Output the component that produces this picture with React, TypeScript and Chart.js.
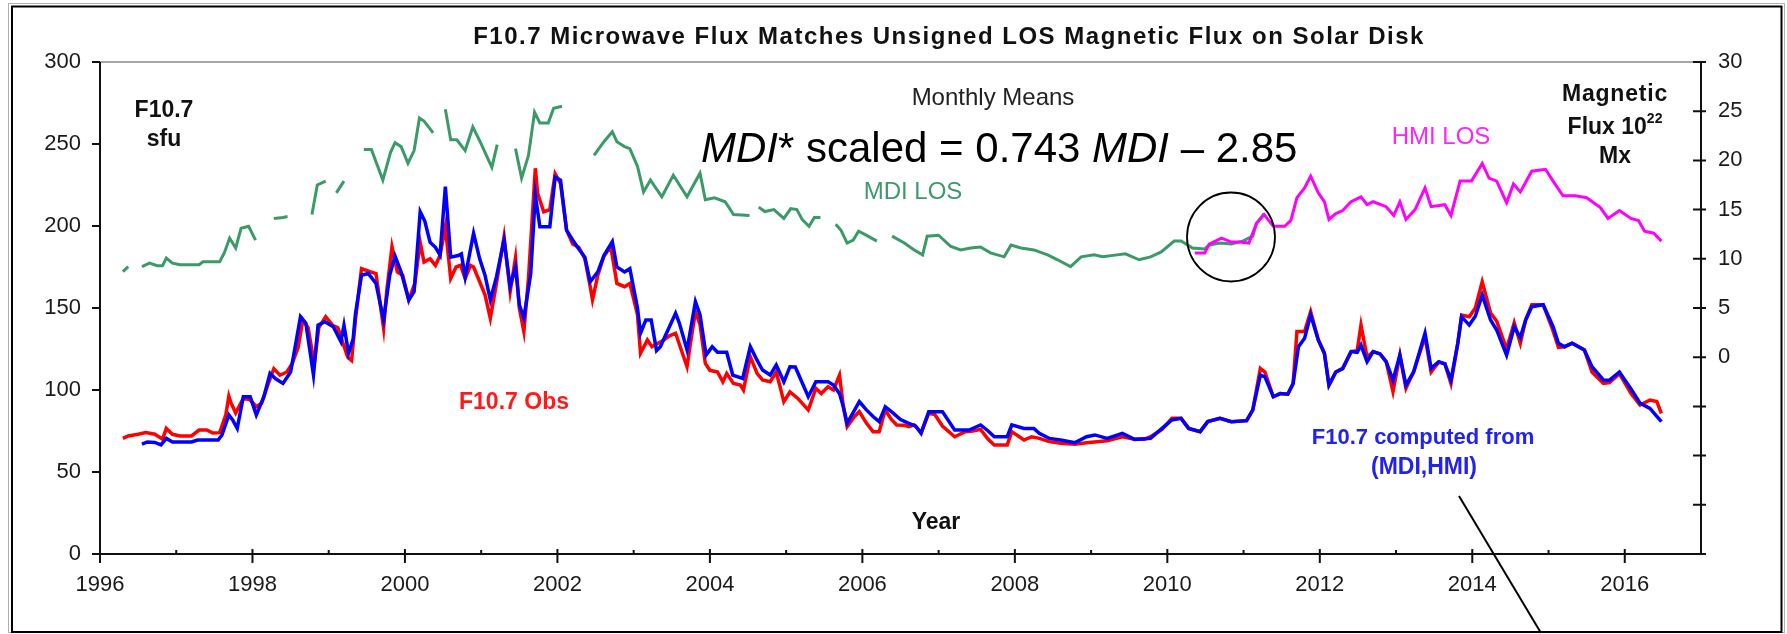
import React, { useEffect, useRef } from "react";
import { Chart, registerables } from "chart.js";

Chart.register(...registerables);

// ---------- DATA ----------
// F10.7 observed monthly means (sfu)
const obsYears = [
  1996.30, 1996.37, 1996.50, 1996.60, 1996.72, 1996.82, 1996.87, 1996.95, 1997.05, 1997.20,
  1997.30, 1997.40, 1997.48, 1997.57, 1997.65, 1997.69, 1997.72, 1997.78, 1997.88, 1997.97,
  1998.05, 1998.12, 1998.20, 1998.28, 1998.36, 1998.45, 1998.52, 1998.60, 1998.66, 1998.73,
  1998.81, 1998.87, 1998.96, 1999.05, 1999.12, 1999.19, 1999.25, 1999.30, 1999.35, 1999.43,
  1999.55, 1999.62, 1999.72, 1999.76, 1999.83, 1999.90, 1999.97, 2000.05, 2000.13, 2000.20,
  2000.25, 2000.33, 2000.40, 2000.46, 2000.53, 2000.60, 2000.67, 2000.73, 2000.79, 2000.86,
  2000.90, 2000.98, 2001.05, 2001.12, 2001.20, 2001.30, 2001.38, 2001.45, 2001.50, 2001.56,
  2001.62, 2001.71, 2001.74, 2001.82, 2001.90, 2001.97, 2002.04, 2002.12, 2002.20, 2002.28,
  2002.36, 2002.43, 2002.46, 2002.53, 2002.61, 2002.70, 2002.78, 2002.88, 2002.95, 2003.05,
  2003.09, 2003.18, 2003.24, 2003.30, 2003.38, 2003.47, 2003.55, 2003.62, 2003.70, 2003.75,
  2003.81, 2003.87, 2003.94, 2004.00, 2004.10, 2004.17, 2004.22, 2004.31, 2004.40, 2004.44,
  2004.53, 2004.62, 2004.69, 2004.79, 2004.87, 2004.97, 2005.05, 2005.15, 2005.29, 2005.39,
  2005.46, 2005.55, 2005.62, 2005.70, 2005.75, 2005.80, 2005.90, 2005.96, 2006.05, 2006.14,
  2006.22, 2006.30, 2006.38, 2006.45, 2006.55, 2006.61, 2006.68, 2006.77, 2006.87, 2006.95,
  2007.05, 2007.21, 2007.35, 2007.45, 2007.55, 2007.65, 2007.73, 2007.90, 2007.96, 2008.12,
  2008.22, 2008.32, 2008.45, 2008.60, 2008.79, 2008.94, 2009.08, 2009.21, 2009.41, 2009.57,
  2009.70, 2009.78, 2009.93, 2010.06, 2010.18, 2010.28, 2010.43, 2010.53, 2010.69, 2010.84,
  2011.04, 2011.12, 2011.22, 2011.28, 2011.39, 2011.48, 2011.58, 2011.65, 2011.70, 2011.80,
  2011.88, 2011.98, 2012.06, 2012.12, 2012.21, 2012.30, 2012.41, 2012.49, 2012.54, 2012.62,
  2012.70, 2012.79, 2012.87, 2012.96, 2013.05, 2013.13, 2013.23, 2013.38, 2013.46, 2013.56,
  2013.64, 2013.72, 2013.81, 2013.86, 2013.96, 2014.04, 2014.13, 2014.24, 2014.32, 2014.45,
  2014.55, 2014.63, 2014.70, 2014.78, 2014.93, 2015.06, 2015.13, 2015.21, 2015.31, 2015.47,
  2015.57, 2015.72, 2015.80, 2015.93, 2016.08, 2016.20, 2016.33, 2016.42, 2016.48,
];
const obsValues = [
  70.5, 72, 73, 74, 73, 70, 76.6, 73, 72, 72,
  75.6, 75.6, 73.8, 74, 84.8, 96.3, 92, 86, 95, 94,
  89.8, 92, 103, 113, 109, 111, 116, 126, 142.7, 138,
  116, 138, 144.7, 139.5, 138, 128, 120, 118, 142.7, 174,
  172, 171, 137.6, 160, 187.4, 172, 170, 154.9, 165, 190,
  178, 180, 176, 182, 199.5, 168, 175, 176, 168, 176,
  175, 166, 158, 143.7, 165, 193.5, 160, 180.5, 150, 135.6,
  168, 235.2, 220, 208.7, 210, 231.8, 226, 197.5, 189, 187,
  180, 163, 155, 170, 181.7, 187.4, 165, 163, 165, 146,
  122.4, 130.5, 126.4, 128, 130, 133, 134.6, 125, 114.2, 130,
  147.7, 140, 116.2, 112, 111, 105, 110, 104, 103, 100,
  120.3, 110, 106.1, 105, 111, 92.9, 98.8, 95, 87.8, 101,
  97.8, 102, 100, 109.1, 90, 77.6, 84, 86.8, 80, 74.6,
  74.6, 87.8, 82, 78.7, 78.5, 77.6, 78.7, 74, 85.8, 85,
  78, 71.5, 74.6, 75, 76, 70, 66.5, 66.5, 74.6, 69.5,
  71.5, 70.5, 68.5, 67.5, 67, 67.9, 68.5, 69, 71.5, 69.9,
  70, 71.5, 76, 82.7, 82.7, 76.6, 74.6, 80.7, 82.7, 80.7,
  81.3, 87.8, 113.2, 111, 95.9, 97.8, 97.4, 104, 135.6, 135.6,
  147.8, 130.5, 122.4, 103, 111, 113.2, 123.4, 124, 139.6, 120,
  123.4, 122, 117.3, 99, 121.3, 101, 111, 132.5, 111, 117,
  116, 104, 128.5, 145.7, 144.7, 150, 166, 147, 142, 125,
  141, 128.5, 142.7, 152, 152, 136, 126, 126.4, 128.5, 124.4,
  111, 104, 104.5, 110, 98, 90.8, 93.9, 93, 85.8,
];

// F10.7 computed from (MDI, HMI) magnetic flux (sfu)
const compYears = [
  1996.55, 1996.62, 1996.72, 1996.80, 1996.87, 1996.95, 1997.20, 1997.28, 1997.55, 1997.60,
  1997.69, 1997.74, 1997.80, 1997.88, 1997.97, 1998.05, 1998.15, 1998.23, 1998.30, 1998.40,
  1998.50, 1998.56, 1998.63, 1998.70, 1998.80, 1998.86, 1998.95, 1999.06, 1999.16, 1999.20,
  1999.26, 1999.32, 1999.35, 1999.43, 1999.52, 1999.62, 1999.72, 1999.80, 1999.87, 1999.95,
  2000.05, 2000.12, 2000.20, 2000.26, 2000.33, 2000.40, 2000.46, 2000.53, 2000.60, 2000.70,
  2000.74, 2000.79, 2000.90, 2000.98, 2001.05, 2001.12, 2001.20, 2001.30, 2001.38, 2001.45,
  2001.50, 2001.56, 2001.65, 2001.71, 2001.77, 2001.90, 2001.97, 2002.04, 2002.12, 2002.20,
  2002.28, 2002.36, 2002.43, 2002.53, 2002.61, 2002.72, 2002.78, 2002.88, 2002.95, 2003.05,
  2003.09, 2003.16, 2003.23, 2003.30, 2003.35, 2003.43, 2003.55, 2003.60, 2003.70, 2003.81,
  2003.87, 2003.95, 2004.03, 2004.10, 2004.22, 2004.30, 2004.43, 2004.53, 2004.62, 2004.69,
  2004.79, 2004.87, 2004.97, 2005.05, 2005.12, 2005.29, 2005.39, 2005.55, 2005.62, 2005.70,
  2005.75, 2005.80, 2005.96, 2006.05, 2006.14, 2006.22, 2006.30, 2006.40, 2006.50, 2006.61,
  2006.70, 2006.77, 2006.87, 2007.05, 2007.21, 2007.40, 2007.55, 2007.65, 2007.73, 2007.90,
  2007.96, 2008.12, 2008.25, 2008.32, 2008.45, 2008.60, 2008.79, 2008.94, 2009.05, 2009.21,
  2009.41, 2009.57, 2009.78, 2009.93, 2010.06, 2010.18, 2010.28, 2010.43, 2010.53, 2010.69,
  2010.84, 2011.04, 2011.12, 2011.22, 2011.28, 2011.39, 2011.48, 2011.58, 2011.65, 2011.72,
  2011.80, 2011.88, 2011.98, 2012.06, 2012.12, 2012.21, 2012.30, 2012.41, 2012.49, 2012.54,
  2012.62, 2012.70, 2012.79, 2012.87, 2012.96, 2013.05, 2013.13, 2013.23, 2013.38, 2013.46,
  2013.56, 2013.64, 2013.72, 2013.81, 2013.86, 2013.96, 2014.04, 2014.13, 2014.24, 2014.32,
  2014.45, 2014.55, 2014.63, 2014.70, 2014.78, 2014.93, 2015.06, 2015.13, 2015.21, 2015.31,
  2015.47, 2015.57, 2015.72, 2015.80, 2015.93, 2016.08, 2016.20, 2016.33, 2016.48,
];
const compValues = [
  67, 68.3, 68, 66.5, 70.5, 68.3, 68.3, 69.5, 69.5, 72.6,
  84.8, 81.7, 76.6, 95.9, 95.9, 84.8, 95.9, 110.2, 107, 104,
  111, 126.4, 144.7, 140.7, 109.1, 139.5, 141.6, 138.6, 129.5, 139.5,
  122.4, 131, 146, 170, 171, 165, 142.7, 170, 181.7, 172,
  154.9, 160, 208.7, 203, 190, 187, 182.3, 224, 181, 182,
  183, 169, 195.5, 180, 170, 154.9, 169, 191.5, 163, 175,
  152, 144, 171, 218.9, 199.6, 199.6, 229.7, 228, 197.5, 191.5,
  186, 181, 166, 172, 182, 190.5, 175, 172, 174, 150,
  134.6, 142.7, 142.7, 124, 126.4, 134.6, 146.8, 140.7, 124.4, 153.9,
  146, 121.3, 126.4, 123, 123, 109.1, 107, 126.4, 118, 112.2,
  109.1, 115.2, 105, 114.2, 114, 95.9, 105, 105, 103, 97.8,
  89.8, 79.7, 92.9, 88, 83.8, 80.7, 89.8, 86, 82, 79.7,
  78, 73.6, 86.8, 86.8, 75.6, 75.6, 78.7, 75, 71.5, 71.5,
  78.7, 76.6, 76.6, 73.6, 70.5, 69.5, 67.9, 71.5, 72.6, 70.5,
  73.6, 69.9, 70.5, 76.6, 81.7, 82.7, 76.6, 74.6, 80.7, 82.7,
  80.7, 81.3, 87.8, 109.1, 108, 95.9, 97.8, 97.4, 104, 126.4,
  131.5, 145.8, 130.5, 122.4, 103, 111, 113, 123.4, 123, 127.4,
  117.3, 123.4, 122, 117.3, 106, 121.3, 103, 111, 134.6, 113.2,
  117.3, 116, 106, 128.5, 144.7, 139.6, 145, 157.9, 142.7, 136.6,
  121.3, 138.6, 132, 142.7, 150.8, 152, 138.6, 128.5, 126.4, 128.5,
  124.4, 114.2, 106.1, 106, 111, 100.8, 91.9, 88.8, 80.7,
];

// MDI LOS unsigned magnetic flux (10^22 Mx), null = data gap
const mdiYears = [
  1996.30, 1996.37, 1996.46, 1996.55, 1996.65, 1996.75, 1996.82, 1996.87, 1996.95, 1997.05,
  1997.30, 1997.35, 1997.57, 1997.63, 1997.70, 1997.78, 1997.85, 1997.95, 1998.04, 1998.16,
  1998.28, 1998.40, 1998.46, 1998.62, 1998.78, 1998.85, 1998.96, 1999.03, 1999.10, 1999.20,
  1999.33, 1999.46, 1999.56, 1999.71, 1999.81, 1999.87, 1999.95, 2000.04, 2000.12, 2000.19,
  2000.25, 2000.37, 2000.45, 2000.53, 2000.60, 2000.68, 2000.79, 2000.89, 2000.98, 2001.14,
  2001.21, 2001.33, 2001.45, 2001.53, 2001.62, 2001.70, 2001.77, 2001.88, 2001.95, 2002.06,
  2002.27, 2002.48, 2002.61, 2002.72, 2002.78, 2002.88, 2002.95, 2003.05, 2003.13, 2003.22,
  2003.37, 2003.52, 2003.70, 2003.87, 2003.94, 2004.06, 2004.20, 2004.31, 2004.52, 2004.58,
  2004.64, 2004.72, 2004.84, 2004.97, 2005.06, 2005.14, 2005.21, 2005.30, 2005.37, 2005.45,
  2005.55, 2005.65, 2005.72, 2005.80, 2005.88, 2005.95, 2006.05, 2006.19, 2006.29, 2006.39,
  2006.55, 2006.68, 2006.79, 2006.85, 2007.00, 2007.16, 2007.29, 2007.42, 2007.55, 2007.68,
  2007.86, 2007.95, 2008.08, 2008.25, 2008.43, 2008.56, 2008.73, 2008.87, 2009.04, 2009.15,
  2009.34, 2009.45, 2009.63, 2009.78, 2009.92, 2010.09, 2010.18, 2010.33, 2010.49, 2010.55,
  2010.69, 2010.84, 2010.99, 2011.12, 2011.17, 2011.27,
];
const mdiValues: (number | null)[] = [
  8.7, 9.2, null, 9.2, 9.56, 9.3, 9.3, 10.07, 9.56, 9.4,
  9.4, 9.7, 9.7, 10.6, 12.1, 11.1, 13.1, 13.3, 11.9, null,
  14.1, 14.2, 14.3, null, 14.5, 17.5, 17.9, null, 16.7, 17.9,
  null, 21.1, 21.1, 18.0, 20.8, 21.8, 21.4, 19.7, 21.0, 24.3,
  24.0, 22.8, null, 25.2, 22.1, 22.1, 21.0, 23.4, 22.0, 19.3,
  21.6, null, 21.2, 18.2, 20.5, 24.9, 23.8, 23.8, 25.3, 25.5,
  null, 20.5, 21.9, 22.9, 21.9, 21.4, 21.2, 19.4, 16.8, 18.0,
  16.3, 18.5, 16.3, 18.7, 16.0, 16.2, 15.8, 14.5, 14.4, null,
  15.25, 14.8, 15.0, 14.1, 15.1, 15.0, 14.0, 13.3, 14.2, 14.2,
  null, 13.5, 12.9, 11.6, 11.9, 12.8, 12.4, 11.8, null, 12.3,
  11.6, 10.9, 10.4, 12.3, 12.4, 11.25, 10.9, 11.1, 11.2, 10.6,
  10.2, 11.4, 11.1, 10.9, 10.4, 9.9, 9.2, 10.2, 10.4, 10.2,
  10.4, 10.5, 9.9, 10.2, 10.7, 11.8, 11.8, 11.1, 11.0, 11.4,
  11.6, 11.5, 11.8, 12.3, 13.6, 14.6,
];

// HMI LOS unsigned magnetic flux (10^22 Mx)
const hmiYears = [
  2010.36, 2010.49, 2010.55, 2010.71, 2010.84, 2010.95, 2011.07, 2011.17, 2011.27, 2011.39,
  2011.54, 2011.62, 2011.70, 2011.80, 2011.88, 2011.98, 2012.06, 2012.12, 2012.21, 2012.30,
  2012.41, 2012.54, 2012.62, 2012.70, 2012.87, 2012.97, 2013.05, 2013.13, 2013.25, 2013.38,
  2013.46, 2013.64, 2013.72, 2013.84, 2013.99, 2014.13, 2014.22, 2014.32, 2014.45, 2014.54,
  2014.63, 2014.78, 2014.96, 2015.06, 2015.19, 2015.35, 2015.50, 2015.68, 2015.78, 2015.93,
  2016.08, 2016.18, 2016.26, 2016.38, 2016.48,
];
const hmiValues = [
  10.6, 10.6, 11.5, 12.1, 11.7, 11.7, 11.6, 13.6, 14.5, 13.3,
  13.3, 13.9, 16.2, 17.2, 18.4, 16.7, 15.8, 14.0, 14.6, 14.9,
  15.8, 16.3, 15.5, 15.8, 15.3, 14.4, 15.8, 14.0, 15.0, 17.2,
  15.3, 15.5, 14.4, 17.9, 17.9, 19.7, 18.2, 17.9, 15.7, 17.6,
  16.8, 18.9, 19.1, 17.9, 16.4, 16.4, 16.2, 15.2, 14.1, 14.9,
  14.1, 13.9, 12.8, 12.6, 11.8,
];

// axis ranges / ticks
const xMin = 1996;
const xMax = 2017;
const leftMax = 300;
const leftStep = 50;
const rightMin = -20;
const rightMax = 30;
const rightStep = 5;

const FONT = "'Liberation Sans', Arial, Helvetica, sans-serif";

const pts = (xs: number[], ys: (number | null)[]) => xs.map((x, i) => ({ x, y: ys[i] }));

const decorPlugin = {
  id: "decor",
  afterDraw(chart: any) {
    const ctx: any = chart.ctx;
    const { left, right, top, bottom } = chart.chartArea;
    const sx = chart.scales.x;
    const sy = chart.scales.y;
    const sy1 = chart.scales.y1;
    ctx.save();

    // outer frame
    ctx.strokeStyle = "#b0b0b0";
    ctx.lineWidth = 1;
    ctx.strokeRect(8.5, 3.5, 1776, 629);
    ctx.strokeStyle = "#000";
    ctx.lineWidth = 2;
    ctx.strokeRect(12, 6.5, 1769.5, 625.5);

    // plot top border
    ctx.strokeStyle = "#8a8a8a";
    ctx.lineWidth = 1.5;
    ctx.beginPath();
    ctx.moveTo(left, top);
    ctx.lineTo(right, top);
    ctx.stroke();

    ctx.strokeStyle = "#111";
    ctx.lineWidth = 2;
    // left axis
    ctx.beginPath();
    ctx.moveTo(left, top);
    ctx.lineTo(left, bottom);
    for (let v = 0; v <= leftMax; v += leftStep) {
      const y = sy.getPixelForValue(v);
      ctx.moveTo(left - 8, y);
      ctx.lineTo(left, y);
    }
    // right axis
    ctx.moveTo(right, top);
    ctx.lineTo(right, bottom);
    for (let v = rightMin; v <= rightMax; v += rightStep) {
      const y = sy1.getPixelForValue(v);
      ctx.moveTo(right - 8, y);
      ctx.lineTo(right + 5, y);
    }
    // x axis
    ctx.moveTo(left - 8, bottom);
    ctx.lineTo(right + 5, bottom);
    for (let yr = xMin; yr <= xMax; yr++) {
      const x = sx.getPixelForValue(yr);
      if (yr % 2 === 0) {
        ctx.moveTo(x, bottom - 5);
        ctx.lineTo(x, bottom + 9);
      } else {
        ctx.moveTo(x, bottom - 4);
        ctx.lineTo(x, bottom);
      }
    }
    ctx.stroke();

    // texts
    ctx.textBaseline = "alphabetic";
    const txt = (s: string, x: number, y: number, font: string, color: string, align: CanvasTextAlign = "center", spacing = "0px") => {
      ctx.font = font;
      ctx.fillStyle = color;
      ctx.textAlign = align;
      ctx.letterSpacing = spacing;
      ctx.fillText(s, x, y);
      ctx.letterSpacing = "0px";
    };
    txt("F10.7 Microwave Flux Matches Unsigned LOS Magnetic Flux on Solar Disk", 949, 44, `bold 24px ${FONT}`, "#111", "center", "1.5px");
    txt("F10.7", 164, 117, `bold 23px ${FONT}`, "#111");
    txt("sfu", 164, 146, `bold 23px ${FONT}`, "#111");
    txt("Monthly Means", 993, 105, `24px ${FONT}`, "#222");
    txt("MDI LOS", 913, 198.5, `24px ${FONT}`, "#3d9a6c");
    txt("HMI LOS", 1441, 143.5, `24px ${FONT}`, "#ff22ff");
    txt("Magnetic", 1615, 100.5, `bold 23px ${FONT}`, "#111", "center", "0.8px");
    // Flux 10^22
    ctx.font = `bold 23px ${FONT}`;
    const fw = ctx.measureText("Flux 10").width;
    ctx.font = `bold 14px ${FONT}`;
    const sw = ctx.measureText("22").width;
    const fx = 1615 - (fw + sw) / 2;
    txt("Flux 10", fx, 134, `bold 23px ${FONT}`, "#111", "left");
    txt("22", fx + fw, 123, `bold 14px ${FONT}`, "#111", "left");
    txt("Mx", 1615, 163, `bold 23px ${FONT}`, "#111");
    txt("F10.7 Obs", 514, 409, `bold 23px ${FONT}`, "#ff1a1a");
    txt("F10.7 computed from", 1423, 444, `bold 22px ${FONT}`, "#2222ee");
    txt("(MDI,HMI)", 1424, 474, `bold 23px ${FONT}`, "#2222ee");
    txt("Year", 936, 529, `bold 23px ${FONT}`, "#111");

    // equation
    const segs: [string, boolean][] = [
      ["MDI", true],
      ["*", false],
      [" scaled = 0.743 ", false],
      ["MDI", true],
      [" \u2013 2.85", false],
    ];
    let ex = 701;
    ctx.fillStyle = "#000";
    ctx.textAlign = "left";
    for (const [s, it] of segs) {
      ctx.font = `${it ? "italic " : ""}42px ${FONT}`;
      ctx.fillText(s, ex, 161.5);
      ex += ctx.measureText(s).width;
    }

    // circle around the MDI/HMI overlap
    ctx.strokeStyle = "#000";
    ctx.lineWidth = 1.8;
    ctx.beginPath();
    ctx.ellipse(1231, 237, 44, 44.5, 0, 0, Math.PI * 2);
    ctx.stroke();

    // pointer line
    ctx.lineWidth = 2;
    ctx.beginPath();
    ctx.moveTo(1459, 496);
    ctx.lineTo(1541, 633);
    ctx.stroke();

    ctx.restore();
  },
};

export default function App() {
  const ref = useRef<HTMLCanvasElement | null>(null);

  useEffect(() => {
    document.body.style.margin = "0";
    const canvas = ref.current;
    if (!canvas) return;
    const tickFont = { family: FONT, size: 22 };
    const chart = new Chart(canvas, {
      type: "line",
      data: {
        datasets: [
          {
            label: "F10.7 computed from (MDI,HMI)",
            data: pts(compYears, compValues),
            borderColor: "#0000ff",
            borderWidth: 3.5,
            pointRadius: 0,
            tension: 0,
            yAxisID: "y",
          },
          {
            label: "F10.7 Obs",
            data: pts(obsYears, obsValues),
            borderColor: "#ff0000",
            borderWidth: 3.5,
            pointRadius: 0,
            tension: 0,
            yAxisID: "y",
          },
          {
            label: "HMI LOS",
            data: pts(hmiYears, hmiValues),
            borderColor: "#ff00ff",
            borderWidth: 3,
            pointRadius: 0,
            tension: 0,
            yAxisID: "y1",
          },
          {
            label: "MDI LOS",
            data: pts(mdiYears, mdiValues),
            borderColor: "#3a9a68",
            borderWidth: 3,
            pointRadius: 0,
            tension: 0,
            spanGaps: false,
            yAxisID: "y1",
          },
        ],
      },
      options: {
        animation: false,
        responsive: false,
        maintainAspectRatio: false,
        devicePixelRatio: 1,
        layout: { padding: { top: 62, left: 0, right: 0, bottom: 0 } },
        plugins: {
          legend: { display: false },
          tooltip: { enabled: false },
          title: { display: false },
        },
        scales: {
          x: {
            type: "linear",
            min: xMin,
            max: xMax,
            grid: { display: false, drawTicks: false },
            border: { display: false },
            ticks: {
              stepSize: 1,
              autoSkip: false,
              maxRotation: 0,
              padding: 18,
              color: "#1a1a1a",
              font: tickFont,
              callback: (v: any) => (Number(v) % 2 === 0 ? String(v) : ""),
            },
            afterFit: (s: any) => {
              s.height = 80;
            },
          },
          y: {
            type: "linear",
            position: "left",
            min: 0,
            max: leftMax,
            grid: { display: false, drawTicks: false },
            border: { display: false },
            ticks: { stepSize: leftStep, padding: 19, color: "#1a1a1a", font: tickFont },
            afterFit: (s: any) => {
              s.width = 100;
            },
          },
          y1: {
            type: "linear",
            position: "right",
            min: rightMin,
            max: rightMax,
            grid: { display: false, drawTicks: false },
            border: { display: false },
            ticks: {
              stepSize: rightStep,
              padding: 17,
              color: "#1a1a1a",
              font: tickFont,
              callback: (v: any) => (Number(v) >= 0 ? String(v) : ""),
            },
            afterFit: (s: any) => {
              s.width = 86;
            },
          },
        },
      },
      plugins: [decorPlugin],
    });
    return () => chart.destroy();
  }, []);

  return (
    <div style={{ width: 1787, height: 634, background: "#fff" }}>
      <canvas ref={ref} width={1787} height={634} style={{ display: "block", width: 1787, height: 634 }} />
    </div>
  );
}
